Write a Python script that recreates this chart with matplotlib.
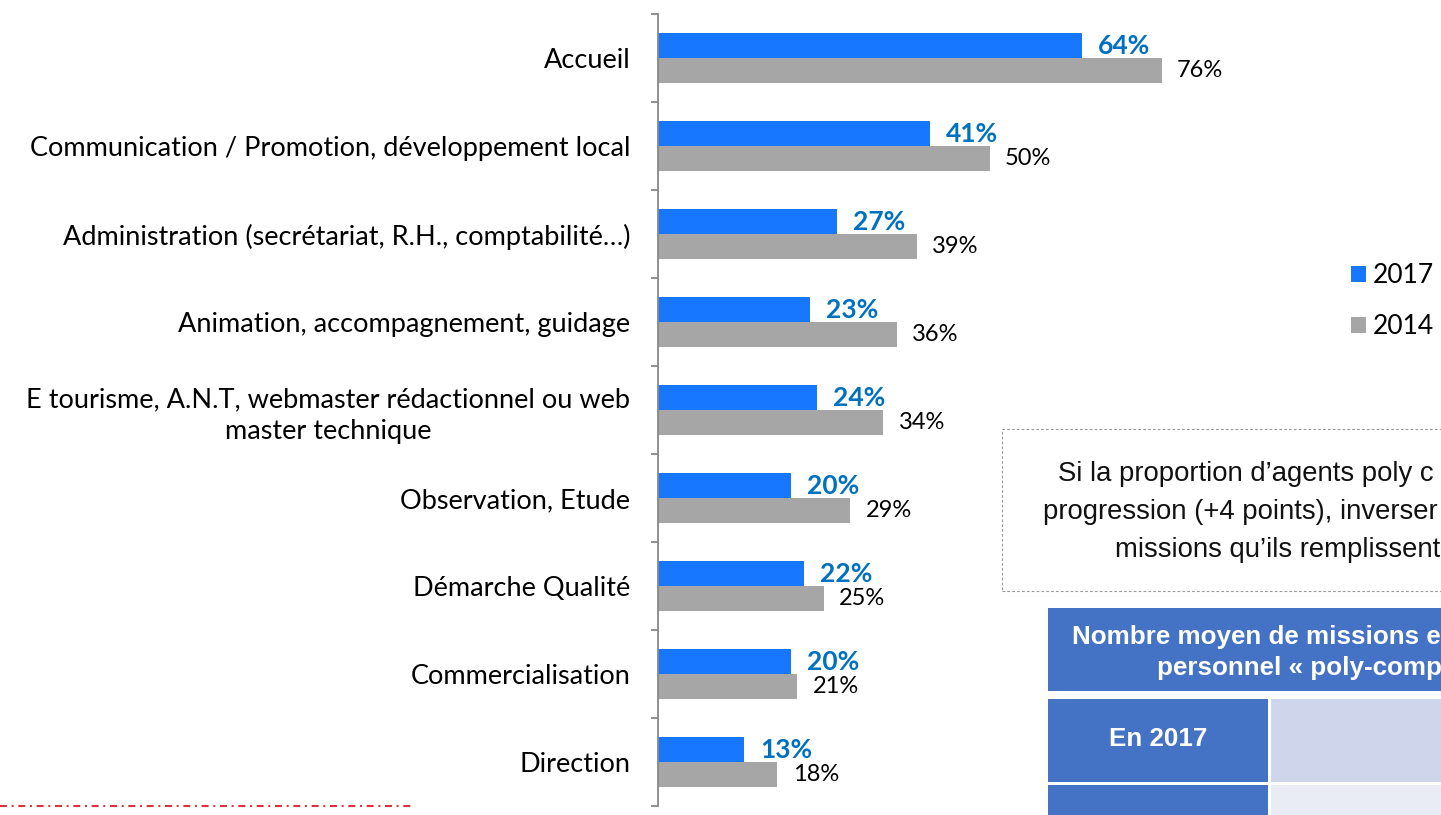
import matplotlib
matplotlib.use("Agg")
import matplotlib.pyplot as plt
from matplotlib.patches import Rectangle
from matplotlib.lines import Line2D

categories = [
    "Accueil",
    "Communication / Promotion, développement local",
    "Administration (secrétariat, R.H., comptabilité…)",
    "Animation, accompagnement, guidage",
    "E tourisme, A.N.T, webmaster rédactionnel ou web\nmaster technique",
    "Observation, Etude",
    "Démarche Qualité",
    "Commercialisation",
    "Direction",
]
values_2017 = [64, 41, 27, 23, 24, 20, 22, 20, 13]
values_2014 = [76, 50, 39, 36, 34, 29, 25, 21, 18]
series_labels = ["2017", "2014"]
box_lines = [
    "Si la proportion d’agents poly c",
    "progression (+4 points), inverser",
    "missions qu’ils remplissent",
]
table_header = ["Nombre moyen de missions e", "personnel « poly-comp"]
table_rows = ["En 2017", ""]

BLUE = "#1778FF"
GREY = "#A6A6A6"
LABEL_BLUE = "#0070C0"
plt.rcParams["lines.scale_dashes"] = False

W, H = 1441, 815
fig = plt.figure(figsize=(W / 100, H / 100), dpi=100)

ax_l, ax_r, ax_t, ax_b = 658, 1441, 14, 806
ax = fig.add_axes([ax_l / W, 1 - ax_b / H, (ax_r - ax_l) / W, (ax_b - ax_t) / H])
px_per_pct = 6.63
ax.set_xlim(0, (ax_r - ax_l) / px_per_pct)
n = len(categories)
ax.set_ylim(n - 0.5, -0.5)

bh = 0.285
off = 0.14
ys = list(range(n))
b1 = ax.barh([y - off for y in ys], values_2017, height=bh, color=BLUE, label=series_labels[0])
b2 = ax.barh([y + off for y in ys], values_2014, height=bh, color=GREY, label=series_labels[1])

font_cat = "Lato"
for y, v in zip(ys, values_2017):
    ax.annotate(f"{v}%", (v, y - off), xytext=(11.5, 0), textcoords="offset points",
                ha="left", va="center", fontsize=19, fontweight="bold",
                color=LABEL_BLUE, family=font_cat)
for y, v in zip(ys, values_2014):
    ax.annotate(f"{v}%", (v, y + off), xytext=(11, 0), textcoords="offset points",
                ha="left", va="center", fontsize=17, color="black", family=font_cat)

for s in ["top", "right", "bottom"]:
    ax.spines[s].set_visible(False)
ax.spines["left"].set_color("#888888")
ax.spines["left"].set_linewidth(1.3)
ax.set_xticks([])
ax.set_yticks(ys)
ax.set_yticklabels(categories, fontsize=19.5, family=font_cat, linespacing=1.35)
for t in ax.get_yticklabels():
    t.set_multialignment("center")
ax.tick_params(axis="y", which="major", length=0, pad=20)
ax.set_yticks([y - 0.5 for y in range(n + 1)], minor=True)
ax.tick_params(axis="y", which="minor", length=5, color="#888888", width=1.3)

# legend
ax.legend(handles=[b1, b2], labels=series_labels, loc="upper left",
          bbox_to_anchor=(1351 / W, 1 - 263 / H), bbox_transform=fig.transFigure,
          frameon=False, prop={"family": font_cat, "size": 19},
          handlelength=0.57, handleheight=0.57, handletextpad=0.25, labelspacing=1.0,
          borderpad=0, borderaxespad=0)

# red dash-dot line at bottom-left
fig.add_artist(Line2D([0, 413 / W], [1 - 806 / H] * 2, transform=fig.transFigure,
                      color="#E0303F", lw=1.5, linestyle=(0, (5, 3.4, 1.4, 3.4))))


def fx(x):
    return x / W


def fy(y):
    return 1 - y / H


# dashed text box
fig.add_artist(Rectangle((fx(1002), fy(591)), fx(700), (591 - 429) / H, transform=fig.transFigure,
                         fill=False, edgecolor="#9A9A9A", lw=0.8, linestyle=(0, (2, 1.5))))
box_x = [1058, 1043, 1115]
box_y = [474, 512, 550]
for line, x, y in zip(box_lines, box_x, box_y):
    fig.text(fx(x), fy(y), line, ha="left", va="center",
             fontsize=19.8, family="Liberation Sans", color="#111111")

# table
TBL_BLUE = "#4472C4"
fig.add_artist(Rectangle((fx(1048), fy(691)), fx(700), (691 - 608) / H, transform=fig.transFigure,
                         facecolor=TBL_BLUE, edgecolor="none"))
hdr_x = [1072, 1157]
hdr_y = [637, 668]
for line, x, y in zip(table_header, hdr_x, hdr_y):
    fig.text(fx(x), fy(y), line, ha="left", va="center",
             fontsize=18.7, fontweight="bold", family="Liberation Sans", color="white")
rows = [(699, 782, "#CFD5EA"), (785, 870, "#E9EBF5")]
for (top, bot, light), lbl in zip(rows, table_rows):
    fig.add_artist(Rectangle((fx(1048), fy(bot)), fx(1268 - 1048), (bot - top) / H,
                             transform=fig.transFigure, facecolor=TBL_BLUE, edgecolor="none"))
    fig.add_artist(Rectangle((fx(1271), fy(bot)), fx(300), (bot - top) / H,
                             transform=fig.transFigure, facecolor=light, edgecolor="none"))
    if lbl:
        fig.text(fx(1158), fy((top + bot) / 2 - 1), lbl, ha="center", va="center",
                 fontsize=18.7, fontweight="bold", family="Liberation Sans", color="white")

fig.savefig("out.png", dpi=100)
